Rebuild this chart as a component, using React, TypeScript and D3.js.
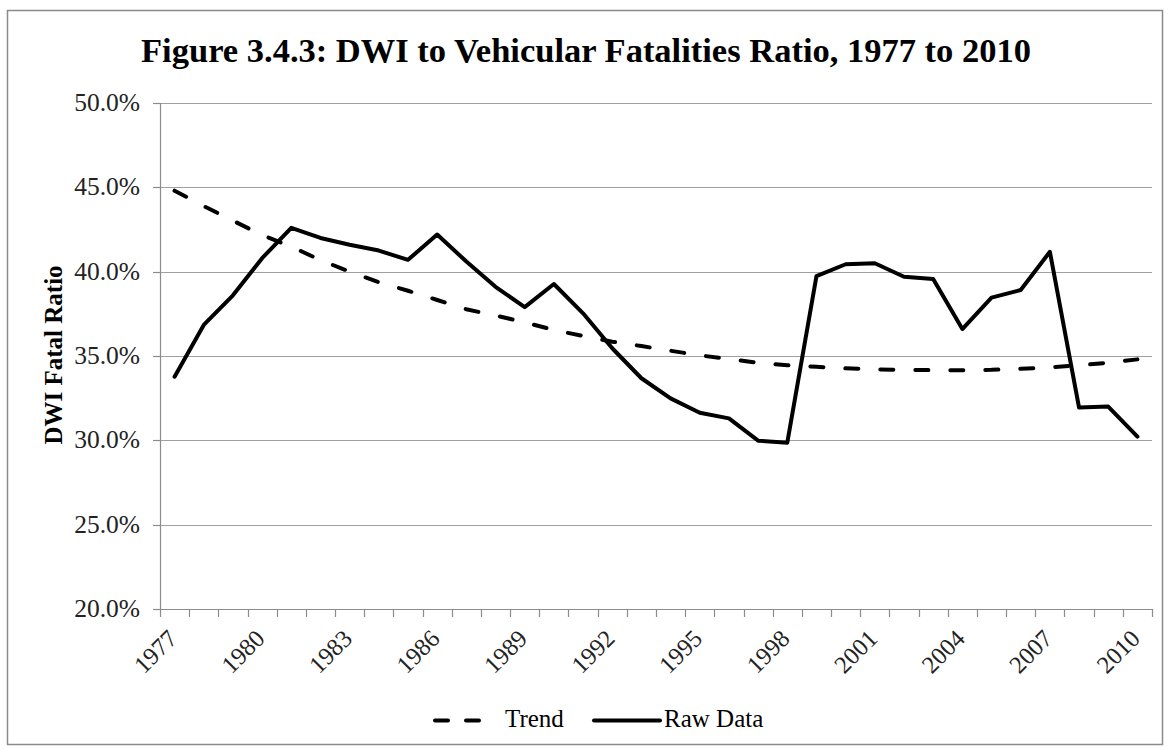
import React from "react";
import * as d3 from "d3";

const years: string[] = [
  "1977", "1978", "1979", "1980", "1981", "1982", "1983", "1984", "1985", "1986",
  "1987", "1988", "1989", "1990", "1991", "1992", "1993", "1994", "1995", "1996",
  "1997", "1998", "1999", "2000", "2001", "2002", "2003", "2004", "2005", "2006",
  "2007", "2008", "2009", "2010",
];

const rawData: number[] = [
  33.77, 36.84, 38.6, 40.8, 42.6, 42.0, 41.6, 41.25, 40.7, 42.2,
  40.6, 39.1, 37.9, 39.27, 37.53, 35.46, 33.68, 32.49, 31.64, 31.3,
  29.98, 29.86, 39.74, 40.44, 40.5, 39.7, 39.56, 36.6, 38.46, 38.91,
  41.18, 31.94, 32.0, 30.22,
];

const trendData: number[] = [
  44.8, 43.89, 43.02, 42.17, 41.48, 40.69, 40.0, 39.37, 38.87, 38.32,
  37.77, 37.4, 37.0, 36.54, 36.19, 35.85, 35.59, 35.31, 35.04, 34.82,
  34.6, 34.45, 34.36, 34.27, 34.21, 34.18, 34.16, 34.16, 34.18, 34.24,
  34.33, 34.45, 34.6, 34.8,
];

const yTicks: number[] = [20, 25, 30, 35, 40, 45, 50];
const xLabelYears: string[] = ["1977", "1980", "1983", "1986", "1989", "1992", "1995", "1998", "2001", "2004", "2007", "2010"];

const title = "Figure 3.4.3: DWI to Vehicular Fatalities Ratio, 1977 to 2010";
const yTitle = "DWI Fatal Ratio";
const legendTrend = "Trend";
const legendRaw = "Raw Data";

const W = 1170;
const H = 749;
const plot = { left: 160, right: 1152, top: 103, bottom: 609 };
const FONT = "'Liberation Serif', 'Times New Roman', serif";
const GRID = "#a0a0a0";
const AXIS = "#8c8c8c";

export default function App() {
  const x = d3.scaleBand<string>().domain(years).range([plot.left, plot.right]);
  const y = d3.scaleLinear().domain([20, 50]).range([plot.bottom, plot.top]);
  const bw = x.bandwidth();
  const cx = (yr: string) => (x(yr) as number) + bw / 2;

  const line = d3
    .line<number>()
    .x((_, i) => cx(years[i]))
    .y((d) => y(d));

  const boundaries = years.map((yr) => x(yr) as number).concat([plot.right]);

  return (
    <svg
      width={W}
      height={H}
      viewBox={`0 0 ${W} ${H}`}
      style={{ position: "absolute", left: 0, top: 0, display: "block", background: "#fff" }}
    >
      <rect x={0} y={0} width={W} height={H} fill="#fff" />
      <rect x={7.5} y={10.5} width={1155} height={734} fill="none" stroke="#8a8a8a" strokeWidth={1.5} />

      <text x={586} y={62} textAnchor="middle" fontFamily={FONT} fontWeight="bold" fontSize={34.5}>
        {title}
      </text>

      {/* gridlines */}
      {yTicks.map((t) => (
        <line
          key={"g" + t}
          x1={plot.left}
          x2={plot.right}
          y1={Math.round(y(t)) + 0.5}
          y2={Math.round(y(t)) + 0.5}
          stroke={t === 20 ? AXIS : GRID}
          strokeWidth={1.2}
        />
      ))}
      {/* y axis */}
      <line x1={plot.left + 0.5} x2={plot.left + 0.5} y1={plot.top} y2={plot.bottom} stroke={AXIS} strokeWidth={1.2} />
      {yTicks.map((t) => (
        <g key={"yt" + t}>
          <line x1={plot.left - 7} x2={plot.left} y1={Math.round(y(t)) + 0.5} y2={Math.round(y(t)) + 0.5} stroke={AXIS} strokeWidth={1.2} />
          <text x={140} y={y(t) + 8} textAnchor="end" fontFamily={FONT} fontSize={25.5} fill="#222">
            {t.toFixed(1) + "%"}
          </text>
        </g>
      ))}
      {/* x ticks */}
      {boundaries.map((b, i) => (
        <line key={"xt" + i} x1={Math.round(b) + 0.5} x2={Math.round(b) + 0.5} y1={plot.bottom} y2={plot.bottom + 8} stroke={AXIS} strokeWidth={1.2} />
      ))}
      {xLabelYears.map((yr) => {
        const px = cx(yr) + 4;
        const py = 640;
        return (
          <text
            key={"xl" + yr}
            x={px}
            y={py}
            textAnchor="end"
            transform={`rotate(-45 ${px} ${py})`}
            fontFamily={FONT}
            fontSize={24.5}
            fill="#222"
          >
            {yr}
          </text>
        );
      })}

      {/* y title */}
      <text
        x={0}
        y={0}
        transform={`translate(62 355) rotate(-90)`}
        textAnchor="middle"
        fontFamily={FONT}
        fontWeight="bold"
        fontSize={25}
      >
        {yTitle}
      </text>

      {/* series */}
      <path
        d={line(trendData) as string}
        fill="none"
        stroke="#000"
        strokeWidth={4}
        strokeDasharray="13,22"
        strokeLinecap="round"
      />
      <path d={line(rawData) as string} fill="none" stroke="#000" strokeWidth={4} strokeLinejoin="round" strokeLinecap="round" />

      {/* legend */}
      <line x1={435} x2={482} y1={720.5} y2={720.5} stroke="#000" strokeWidth={4} strokeDasharray="13,18" strokeLinecap="round" />
      <text x={505} y={727} fontFamily={FONT} fontSize={25}>
        {legendTrend}
      </text>
      <line x1={594} x2={660} y1={720.5} y2={720.5} stroke="#000" strokeWidth={4} strokeLinecap="round" />
      <text x={664} y={727} fontFamily={FONT} fontSize={25}>
        {legendRaw}
      </text>
    </svg>
  );
}
